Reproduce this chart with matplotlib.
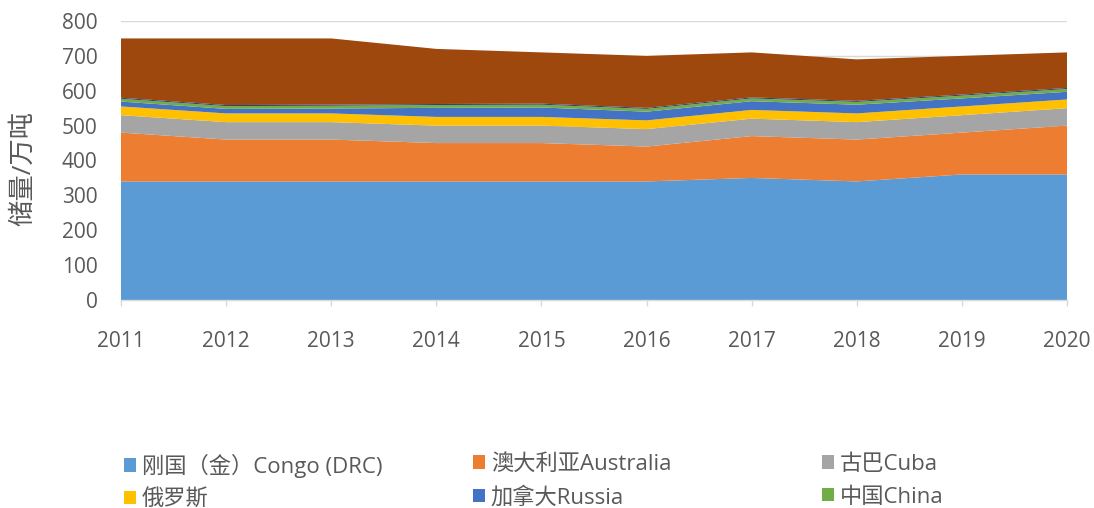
import numpy as np
import matplotlib
matplotlib.use('Agg')
import matplotlib.pyplot as plt

plt.rcParams['font.family'] = ['Open Sans', 'Noto Sans CJK SC', 'DejaVu Sans']

# 储量（万吨），按年份
years = [2011, 2012, 2013, 2014, 2015, 2016, 2017, 2018, 2019, 2020]
congo = [340, 340, 340, 340, 340, 340, 350, 340, 360, 360]
australia = [140, 120, 120, 110, 110, 100, 120, 120, 120, 140]
cuba = [50, 50, 50, 50, 50, 50, 50, 50, 50, 50]
russia = [25, 25, 25, 25, 25, 25, 25, 25, 25, 25]
canada = [14, 13, 14, 26, 27, 25, 25, 25, 23, 22]
china = [8, 8, 8, 8, 8, 8, 8, 8, 8, 8]
other_small = [3, 3, 3, 3, 3, 3, 3, 3, 3, 3]
others = [170, 191, 190, 158, 147, 149, 129, 119, 111, 102]

labels = ['刚国（金）Congo (DRC)', '澳大利亚Australia', '古巴Cuba',
          '俄罗斯', '加拿大Russia', '中国China', '', '']
colors = ['#5B9BD5', '#ED7D31', '#A5A5A5', '#FFC000',
          '#4472C4', '#70AD47', '#264478', '#9E480E']

txt = '#595959'

fig = plt.figure(figsize=(10.94, 5.08), dpi=100)
ax = fig.add_axes([121 / 1094, 208 / 508, 946 / 1094, 279 / 508])

polys = ax.stackplot(years, congo, australia, cuba, russia, canada, china,
                     other_small, others, colors=colors, linewidth=0, zorder=2)

ax.set_xlim(2011, 2020)
ax.set_ylim(0, 800)
ax.set_yticks(np.arange(0, 801, 100))
ax.set_xticks(years)
ax.yaxis.grid(True, color='#D9D9D9', linewidth=1, zorder=0)
ax.set_axisbelow(True)

for s in ['top', 'right', 'left']:
    ax.spines[s].set_visible(False)
ax.spines['bottom'].set_color('#D9D9D9')
ax.spines['bottom'].set_linewidth(1)
ax.spines['bottom'].set_zorder(3)

ax.tick_params(axis='y', length=0, pad=17, labelsize=15, labelcolor=txt)
ax.tick_params(axis='x', length=4.5, width=1, color='#D9D9D9', direction='out',
               pad=18, labelsize=15, labelcolor=txt)

fig.text(24 / 1094, (508 - 168) / 508, '储量/万吨', rotation=90, ha='center',
         va='center', fontsize=19, color=txt)

# three legend columns, two rows each
cols = [[0, 3], [1, 4], [2, 5]]
xs = [124, 473, 822]
for x0, idx in zip(xs, cols):
    leg = fig.legend([polys[i] for i in idx], [labels[i] for i in idx],
                     loc='upper left', bbox_to_anchor=(x0 / 1094, 1 - 454 / 508),
                     frameon=False, fontsize=16, handlelength=0.55,
                     handleheight=0.55, handletextpad=0.25, labelspacing=0.52,
                     borderpad=0, borderaxespad=0)
    for t in leg.get_texts():
        t.set_color(txt)

fig.savefig('out.png', dpi=100)
